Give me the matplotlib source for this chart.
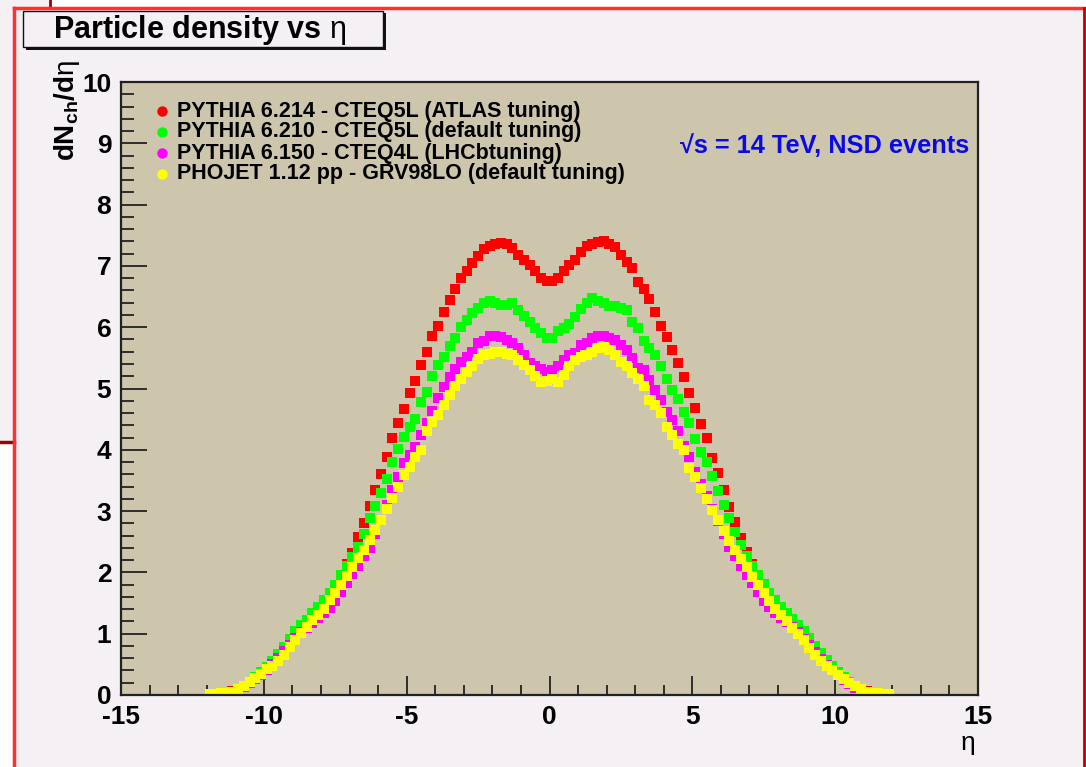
import numpy as np
import matplotlib
matplotlib.use("Agg")
import matplotlib.pyplot as plt
from matplotlib.patches import Rectangle
from matplotlib.lines import Line2D

plt.rcParams['font.family'] = ['Liberation Sans', 'DejaVu Sans']
plt.rcParams['mathtext.fontset'] = 'custom'
plt.rcParams['mathtext.rm'] = 'Liberation Sans'
plt.rcParams['mathtext.bf'] = 'Liberation Sans:bold'
plt.rcParams['mathtext.it'] = 'Liberation Sans:italic'
plt.rcParams['axes.unicode_minus'] = False

# 120 bins of width 0.2 between -12 and 12
eta_edges = np.linspace(-12.0, 12.0, 121)
eta = 0.5 * (eta_edges[:-1] + eta_edges[1:])

pythia_atlas = [
    0.01, 0.02, 0.03, 0.04, 0.06, 0.09, 0.14, 0.20, 0.27, 0.34,
    0.42, 0.51, 0.61, 0.72, 0.84, 0.95, 1.06, 1.17, 1.27, 1.38,
    1.50, 1.64, 1.79, 1.95, 2.14, 2.32, 2.57, 2.80, 3.08, 3.34,
    3.61, 3.88, 4.19, 4.43, 4.66, 4.92, 5.13, 5.39, 5.59, 5.86,
    6.02, 6.25, 6.44, 6.62, 6.80, 6.91, 7.04, 7.16, 7.27, 7.32,
    7.36, 7.38, 7.36, 7.29, 7.18, 7.10, 7.01, 6.91, 6.81, 6.76,
    6.76, 6.80, 6.91, 7.01, 7.10, 7.22, 7.32, 7.36, 7.39, 7.41,
    7.36, 7.31, 7.18, 7.07, 6.96, 6.74, 6.62, 6.46, 6.25, 6.02,
    5.84, 5.63, 5.41, 5.18, 4.92, 4.69, 4.42, 4.19, 3.87, 3.62,
    3.35, 3.07, 2.82, 2.56, 2.34, 2.13, 1.96, 1.80, 1.63, 1.49,
    1.37, 1.27, 1.16, 1.05, 0.94, 0.83, 0.71, 0.60, 0.50, 0.41,
    0.33, 0.26, 0.19, 0.13, 0.09, 0.06, 0.04, 0.03, 0.02, 0.01,
]
pythia_default = [
    0.01, 0.01, 0.02, 0.03, 0.05, 0.09, 0.14, 0.22, 0.30, 0.38,
    0.46, 0.56, 0.67, 0.79, 0.92, 1.04, 1.14, 1.23, 1.33, 1.44,
    1.55, 1.66, 1.80, 1.95, 2.10, 2.25, 2.42, 2.63, 2.88, 3.08,
    3.30, 3.53, 3.80, 4.01, 4.21, 4.38, 4.50, 4.78, 4.95, 5.20,
    5.38, 5.52, 5.69, 5.82, 6.00, 6.12, 6.23, 6.32, 6.39, 6.42,
    6.39, 6.36, 6.36, 6.39, 6.28, 6.18, 6.09, 5.98, 5.91, 5.82,
    5.82, 5.94, 5.98, 6.06, 6.17, 6.29, 6.39, 6.47, 6.43, 6.40,
    6.35, 6.35, 6.31, 6.28, 6.09, 5.98, 5.78, 5.66, 5.55, 5.36,
    5.15, 4.98, 4.83, 4.61, 4.43, 4.17, 3.97, 3.80, 3.57, 3.33,
    3.10, 2.88, 2.66, 2.45, 2.27, 2.11, 1.96, 1.81, 1.67, 1.55,
    1.44, 1.34, 1.24, 1.14, 1.04, 0.93, 0.80, 0.68, 0.57, 0.47,
    0.38, 0.30, 0.22, 0.15, 0.09, 0.05, 0.03, 0.02, 0.01, 0.01,
]
pythia_lhcb = [
    0.01, 0.01, 0.02, 0.03, 0.05, 0.08, 0.13, 0.19, 0.26, 0.33,
    0.41, 0.50, 0.60, 0.71, 0.82, 0.93, 1.02, 1.10, 1.18, 1.25,
    1.33, 1.42, 1.53, 1.68, 1.82, 1.97, 2.10, 2.26, 2.40, 2.62,
    2.86, 3.10, 3.34, 3.56, 3.78, 3.92, 4.05, 4.24, 4.44, 4.64,
    4.84, 5.03, 5.18, 5.31, 5.44, 5.52, 5.60, 5.75, 5.78, 5.85,
    5.85, 5.84, 5.79, 5.75, 5.66, 5.55, 5.41, 5.36, 5.31, 5.27,
    5.30, 5.36, 5.46, 5.55, 5.58, 5.71, 5.75, 5.82, 5.85, 5.85,
    5.82, 5.79, 5.71, 5.63, 5.49, 5.33, 5.30, 5.14, 4.98, 4.82,
    4.62, 4.49, 4.30, 4.06, 3.89, 3.64, 3.44, 3.24, 3.04, 2.84,
    2.63, 2.42, 2.26, 2.10, 1.96, 1.82, 1.68, 1.54, 1.43, 1.34,
    1.26, 1.19, 1.11, 1.02, 0.92, 0.81, 0.70, 0.59, 0.49, 0.40,
    0.32, 0.25, 0.18, 0.12, 0.08, 0.05, 0.03, 0.02, 0.01, 0.01,
]
phojet = [
    0.02, 0.02, 0.03, 0.04, 0.05, 0.09, 0.15, 0.22, 0.27, 0.35,
    0.42, 0.48, 0.55, 0.66, 0.78, 0.90, 1.01, 1.11, 1.22, 1.31,
    1.41, 1.55, 1.67, 1.79, 1.94, 2.09, 2.23, 2.37, 2.53, 2.69,
    2.86, 3.03, 3.22, 3.40, 3.59, 3.72, 3.89, 4.00, 4.30, 4.46,
    4.57, 4.73, 4.89, 5.04, 5.15, 5.27, 5.36, 5.48, 5.55, 5.57,
    5.60, 5.60, 5.57, 5.55, 5.46, 5.38, 5.30, 5.20, 5.11, 5.13,
    5.15, 5.11, 5.22, 5.36, 5.46, 5.52, 5.55, 5.60, 5.66, 5.68,
    5.63, 5.55, 5.44, 5.36, 5.26, 5.15, 5.04, 4.81, 4.73, 4.60,
    4.38, 4.24, 4.09, 4.00, 3.70, 3.55, 3.38, 3.20, 3.02, 2.85,
    2.68, 2.52, 2.36, 2.22, 2.08, 1.93, 1.79, 1.66, 1.54, 1.41,
    1.30, 1.21, 1.10, 1.00, 0.89, 0.77, 0.66, 0.55, 0.47, 0.40,
    0.33, 0.26, 0.20, 0.14, 0.09, 0.05, 0.04, 0.03, 0.02, 0.02,
]

series = [pythia_atlas, pythia_default, pythia_lhcb, phojet]
labels = ["PYTHIA 6.214 - CTEQ5L (ATLAS tuning)",
          "PYTHIA 6.210 - CTEQ5L (default tuning)",
          "PYTHIA 6.150 - CTEQ4L (LHCbtuning)",
          "PHOJET 1.12 pp - GRV98LO (default tuning)"]
colors = ["#ff0000", "#00ff00", "#ff00ff", "#ffff00"]

W, H = 1086, 767
bg = "#f4f0f4"
fig = plt.figure(figsize=(W / 100, H / 100), dpi=100, facecolor=bg)


def fx(px):
    return px / W


def fy(py):
    return 1 - py / H


# window edges around the canvas
fig.patches.append(Rectangle((fx(50), fy(7)), 1, 7 / H, transform=fig.transFigure,
                             facecolor="white", edgecolor="none"))
fig.patches.append(Rectangle((0, 0), fx(14), fy(442), transform=fig.transFigure,
                             facecolor="white", edgecolor="none"))
fig.lines.append(Line2D([fx(50), fx(50)], [fy(0), fy(7)], transform=fig.transFigure,
                        color="#a00000", lw=2))
fig.lines.append(Line2D([0, fx(14)], [fy(442), fy(442)], transform=fig.transFigure,
                        color="#a00000", lw=2.5))
fig.lines.append(Line2D([fx(14), fx(1084)], [fy(8), fy(8)], transform=fig.transFigure,
                        color="#ff3030", lw=2.5))
fig.lines.append(Line2D([fx(14), fx(14)], [fy(8), 0], transform=fig.transFigure,
                        color="#ff3030", lw=2.5))
fig.lines.append(Line2D([fx(1084), fx(1084)], [fy(8), 0], transform=fig.transFigure,
                        color="#c00000", lw=2))

ax = fig.add_axes([fx(121), fy(695), (978 - 121) / W, (695 - 82) / H])
ax.set_facecolor("#cdc6ad")

for vals, c in zip(series, colors):
    ax.plot(eta, vals, ls="none", marker="s", ms=7.8, mew=0, color=c)

ax.set_xlim(-15, 15)
ax.set_ylim(0, 10)
ax.set_xticks(np.arange(-15, 16, 5))
ax.set_xticks(np.arange(-15, 16, 1), minor=True)
ax.set_yticks(np.arange(0, 11, 1))
ax.set_yticks(np.arange(0, 10.01, 0.2), minor=True)
ax.tick_params(which="both", direction="in", width=1.3, color="#222222",
               labelsize=19, top=False, right=False)
ax.tick_params(axis="x", which="major", length=14, pad=7)
ax.tick_params(axis="x", which="minor", length=7)
ax.tick_params(axis="y", which="major", length=19, pad=7)
ax.tick_params(axis="y", which="minor", length=9.5)
for lab in ax.get_xticklabels() + ax.get_yticklabels():
    lab.set_fontweight("bold")
for sp in ax.spines.values():
    sp.set_linewidth(1.6)
    sp.set_color("#222222")

# legend rows
for i, (lab, c) in enumerate(zip(labels, colors)):
    yrow = (695 - (111 + 21 * i)) / 613
    ax.plot([(162 - 121) / 857], [yrow], transform=ax.transAxes, marker="o",
            ms=7.5, mew=0, color=c, ls="none", clip_on=False)
    ax.text((177 - 121) / 857, yrow, lab, transform=ax.transAxes, fontsize=15.5,
            fontweight="bold", ha="left", va="center", color="black")

ax.text((825 - 121) / 857, (695 - 146) / 613, "√s = 14 TeV, NSD events",
        transform=ax.transAxes, fontsize=18.3, fontweight="bold", color="#0a0ae6",
        ha="center", va="center")

# title box with shadow
fig.patches.append(Rectangle((fx(26), fy(50)), fx(360), 37 / H, transform=fig.transFigure,
                             facecolor="#111111", edgecolor="none"))
fig.patches.append(Rectangle((fx(23), fy(47)), fx(360), 36 / H, transform=fig.transFigure,
                             facecolor=bg, edgecolor="#111111", lw=1))
fig.text(fx(200), fy(30), r"Particle density vs $\mathrm{\eta}$", fontsize=22,
         fontweight="bold", ha="center", va="center")

fig.text(fx(67), fy(60), r"$\mathbf{dN}_{\mathbf{ch}}\mathbf{/d}\mathrm{\eta}$",
         rotation=90, fontsize=20, ha="center", va="top")
fig.text(fx(975), fy(745), r"$\mathrm{\eta}$", fontsize=19, ha="right", va="center")

fig.savefig("out.png", dpi=100, facecolor=bg)
